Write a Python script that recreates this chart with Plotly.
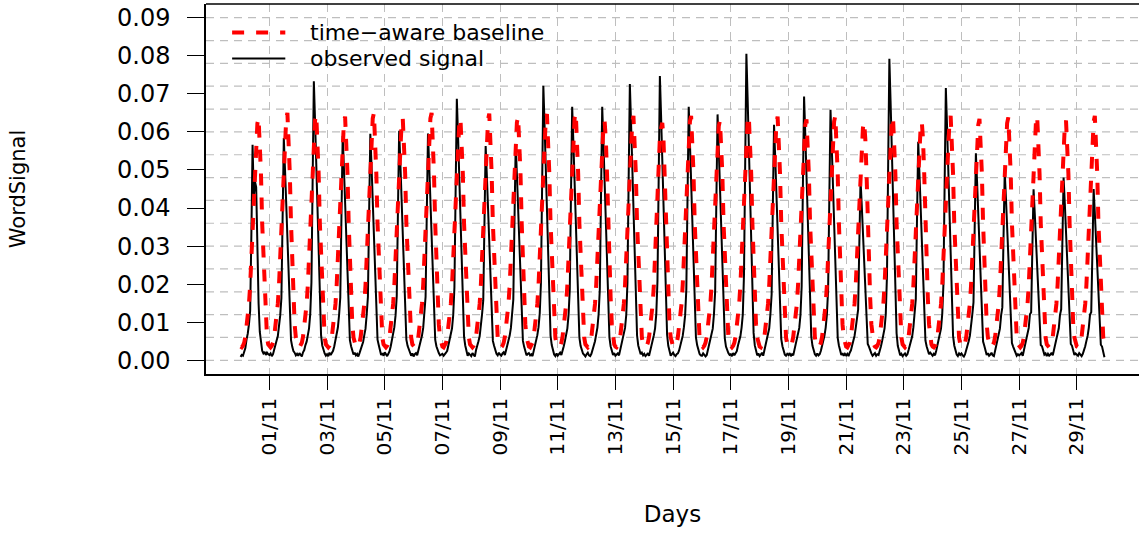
import plotly.graph_objects as go
import pandas as pd

# Observed signal, one row per day, 24 hourly values in units of 1e-4
observed_rows = [
    [9,14,12,20,32,55,70,95,130,330,566,430,470,455,290,150,75,40,25,18,22,14,20,16],
    [14,18,11,16,26,38,52,63,88,118,164,380,584,502,409,304,210,123,53,36,24,20,13,17],
    [12,19,15,10,21,27,40,49,66,84,122,205,476,733,630,513,381,264,154,66,39,27,18,12],
    [16,11,20,14,18,25,37,51,64,86,119,165,383,589,507,412,306,212,124,53,37,25,15,20],
    [13,17,10,19,27,39,48,66,83,121,167,387,595,512,417,309,214,125,54,40,26,14,19,12],
    [21,15,11,17,24,37,52,64,87,118,169,392,603,519,422,314,217,127,54,38,27,16,12,18],
    [10,16,19,13,26,40,49,65,85,122,167,387,596,513,417,310,215,125,54,37,25,19,13,15],
    [17,12,15,20,25,38,51,67,84,119,192,447,687,591,481,357,247,144,62,39,26,12,18,14],
    [11,19,14,10,27,36,50,63,86,121,158,366,563,484,394,293,203,118,51,38,24,17,13,20],
    [15,12,18,21,14,26,39,52,65,85,118,159,369,568,488,398,295,204,119,51,36,25,13,17],
    [19,13,16,11,25,38,49,66,87,123,202,469,721,620,505,375,260,151,65,40,27,15,11,18],
    [12,17,20,14,24,37,51,64,84,120,186,433,666,573,466,346,240,140,60,38,25,18,14,10],
    [16,20,13,11,17,26,39,50,65,86,121,186,433,666,573,466,346,240,140,60,37,26,14,19],
    [12,15,18,13,27,38,52,63,85,119,203,472,726,624,508,378,261,152,65,39,24,16,20,13],
    [17,11,14,19,12,25,40,48,66,84,122,209,486,747,642,523,388,269,157,67,38,27,12,16],
    [20,14,11,16,18,26,37,51,64,87,118,186,433,666,573,466,346,240,140,60,40,25,17,13],
    [12,18,15,10,14,27,38,49,65,83,121,181,420,646,556,452,336,233,136,58,36,26,19,14],
    [16,11,19,13,17,24,39,52,63,86,120,225,523,805,692,564,419,290,169,72,39,25,13,18],
    [11,15,20,12,26,38,50,66,84,122,173,402,619,532,433,322,223,130,56,37,26,15,12,17],
    [14,19,11,16,13,27,37,51,64,85,119,194,450,693,596,485,360,249,146,62,38,24,16,12],
    [18,13,16,25,38,50,65,86,120,184,428,658,566,461,342,237,138,59,39,26,14,19,12,17],
    [13,17,11,20,26,39,49,64,85,118,133,308,474,408,332,246,171,100,43,36,25,18,12,15],
    [19,12,16,14,24,37,51,66,84,121,222,515,792,681,554,412,285,166,71,38,27,13,17,11],
    [15,18,12,16,27,40,48,63,87,119,161,373,574,494,402,298,207,121,52,37,24,16,20,14],
    [12,17,13,25,38,52,65,84,122,200,465,715,615,501,372,257,150,64,39,27,15,11,18,14],
    [18,13,10,16,26,37,50,64,86,120,152,354,544,468,381,283,196,114,49,38,25,14,19,12],
    [15,20,13,11,25,39,51,65,83,118,139,322,496,427,347,258,179,104,45,36,26,17,12,16],
    [13,16,19,12,27,38,49,63,85,121,126,292,449,386,314,233,162,94,40,37,24,15,18,11],
    [17,12,15,20,13,26,40,50,66,84,119,134,312,480,413,336,250,173,101,43,38,25,14,18],
    [16,12,19,14,11,17,25,37,51,64,86,120,126,293,450,387,315,234,162,95,41,36,24,8],
]

# Time-aware baseline, one row per day, 24 hourly values in units of 1e-4
baseline_rows = [
    [36,34,38,46,62,85,115,148,198,275,355,440,520,585,622,637,580,490,360,270,165,95,60,42],
    [36,34,38,46,62,85,115,148,198,275,355,440,520,585,635,650,580,490,360,270,165,95,60,42],
    [36,34,38,46,62,85,115,148,198,275,355,440,520,585,630,645,580,490,360,270,165,95,60,42],
    [36,34,38,46,62,85,115,148,198,275,355,440,520,585,625,640,580,490,360,270,165,95,60,42],
    [36,34,38,46,62,85,115,148,198,275,355,440,520,585,635,650,580,490,360,270,165,95,60,42],
    [36,34,38,46,62,85,115,148,198,275,355,440,520,585,621,636,580,490,360,270,165,95,60,42],
    [36,34,38,46,62,85,115,148,198,275,355,440,520,585,635,650,580,490,360,270,165,95,60,42],
    [36,34,38,46,62,85,115,148,198,275,355,440,520,585,621,636,580,490,360,270,165,95,60,42],
    [36,34,38,46,62,85,115,148,198,275,355,440,520,585,633,648,580,490,360,270,165,95,60,42],
    [36,34,38,46,62,85,115,148,198,275,355,440,520,585,625,640,580,490,360,270,165,95,60,42],
    [36,34,38,46,62,85,115,148,198,275,355,440,520,585,632,647,580,490,360,270,165,95,60,42],
    [36,34,38,46,62,85,115,148,198,275,355,440,520,585,635,650,580,490,360,270,165,95,60,42],
    [36,34,38,46,62,85,115,148,198,275,355,440,520,585,614,629,580,490,360,270,165,95,60,42],
    [36,34,38,46,62,85,115,148,198,275,355,440,520,585,627,642,580,490,360,270,165,95,60,42],
    [36,34,38,46,62,85,115,148,198,275,355,440,520,585,609,624,580,490,360,270,165,95,60,42],
    [36,34,38,46,62,85,115,148,198,275,355,440,520,585,627,642,580,490,360,270,165,95,60,42],
    [36,34,38,46,62,85,115,148,198,275,355,440,520,585,615,630,580,490,360,270,165,95,60,42],
    [36,34,38,46,62,85,115,148,198,275,355,440,520,585,627,642,580,490,360,270,165,95,60,42],
    [36,34,38,46,62,85,115,148,198,275,355,440,520,585,625,640,580,490,360,270,165,95,60,42],
    [36,34,38,46,62,85,115,148,198,275,355,440,520,585,618,633,580,490,360,270,165,95,60,42],
    [36,34,38,46,62,85,115,148,198,275,355,440,520,585,627,642,580,490,360,270,165,95,60,42],
    [36,34,38,46,62,85,115,148,198,275,355,440,520,585,611,626,580,490,360,270,165,95,60,42],
    [36,34,38,46,62,85,115,148,198,275,355,440,520,585,625,640,580,490,360,270,165,95,60,42],
    [36,34,38,46,62,85,115,148,198,275,355,440,520,585,611,626,580,490,360,270,165,95,60,42],
    [36,34,38,46,62,85,115,148,198,275,355,440,520,585,627,642,580,490,360,270,165,95,60,42],
    [36,34,38,46,62,85,115,148,198,275,355,440,520,585,619,634,580,490,360,270,165,95,60,42],
    [36,34,38,46,62,85,115,148,198,275,355,440,520,585,623,638,580,490,360,270,165,95,60,42],
    [36,34,38,46,62,85,115,148,198,275,355,440,520,585,627,642,580,490,360,270,165,95,60,42],
    [36,34,38,46,62,85,115,148,198,275,355,440,520,585,615,630,580,490,360,270,165,95,60,42],
    [36,34,38,46,62,85,115,148,198,275,355,440,520,585,627,642,580,490,360,270,165,95,60,42],
]

tick_labels = ["01/11", "03/11", "05/11", "07/11", "09/11", "11/11", "13/11", "15/11",
               "17/11", "19/11", "21/11", "23/11", "25/11", "27/11", "29/11"]
y_tick_values = [0.00, 0.01, 0.02, 0.03, 0.04, 0.05, 0.06, 0.07, 0.08, 0.09]
y_grid_values = [0.000, 0.006, 0.012, 0.018, 0.024, 0.030, 0.036, 0.042, 0.048,
                 0.054, 0.060, 0.066, 0.072, 0.078, 0.084, 0.090]

for row in observed_rows + baseline_rows:
    assert len(row) == 24, row
assert len(observed_rows) == 30 and len(baseline_rows) == 30

UNIT = 1e-4
observed = [v * UNIT for row in observed_rows for v in row]
baseline = [v * UNIT for row in baseline_rows for v in row]

start = pd.Timestamp("2014-10-31 00:00")
times = pd.date_range(start, periods=len(observed), freq="h")
tick_dates = [pd.Timestamp(f"2014-11-{lab[:2]} 00:00") for lab in tick_labels]

n = len(observed)
pad = 0.04 * (n - 1)
x_range = [start - pd.Timedelta(hours=pad), start + pd.Timedelta(hours=(n - 1) + pad)]
y_range = [0 - 0.04 * 0.09, 0.09 + 0.04 * 0.09]

FONT = "DejaVu Sans"
GRID = "#bebebe"

fig = go.Figure()
fig.add_trace(go.Scatter(x=times, y=observed, mode="lines", name="observed signal",
                         line=dict(color="black", width=2), showlegend=False))
fig.add_trace(go.Scatter(x=times, y=baseline, mode="lines", name="time\u2212aware baseline",
                         line=dict(color="#ff0000", width=4, dash="12px,12px"), showlegend=False))

fig.update_layout(
    width=1139, height=533,
    margin=dict(l=206, r=0, t=4, b=159),
    paper_bgcolor="white", plot_bgcolor="white",
    font=dict(family=FONT, size=22, color="black"),
    xaxis=dict(
        range=x_range, type="date",
        tickvals=tick_dates, ticktext=tick_labels, tickangle=-90,
        ticks="outside", ticklen=14, tickwidth=1.2, tickcolor="black",
        showline=True, linecolor="black", linewidth=1.5, mirror=False,
        showgrid=True, gridcolor=GRID, griddash="8px,6px", gridwidth=1.2,
        zeroline=False, tickfont=dict(size=20),
        title=dict(text="Days", standoff=52, font=dict(size=23)),
    ),
    yaxis=dict(
        range=y_range, tickvals=y_tick_values, tickformat=".2f",
        ticks="outside", ticklen=17, tickwidth=1.2, tickcolor="black",
        showline=True, linecolor="black", linewidth=1.5, mirror=False,
        showgrid=False, zeroline=False, tickfont=dict(size=24),
        ticklabelstandoff=12,
        title=dict(text="WordSignal", standoff=86, font=dict(size=21)),
    ),
    showlegend=False,
)

# horizontal dashed grid (R grid() divisions, independent of the tick marks)
for gv in y_grid_values:
    fig.add_shape(type="line", xref="paper", yref="y", x0=0, x1=1, y0=gv, y1=gv,
                  line=dict(color=GRID, width=1.2, dash="8px,6px"), layer="below")

# top border of the box
fig.add_shape(type="line", xref="paper", yref="paper", x0=0, x1=1, y0=1, y1=1,
              line=dict(color="black", width=1.5), layer="above")

# legend (drawn manually, R style without box)
legend_items = [("time\u2212aware baseline", "#ff0000", 4, "12px,12px"),
                ("observed signal", "black", 2, "solid")]
for i, (label, color, width, dash) in enumerate(legend_items):
    yy = 0.9230 - i * 0.0705
    fig.add_shape(type="line", xref="paper", yref="paper", x0=0.028, x1=0.085, y0=yy, y1=yy,
                  line=dict(color=color, width=width, dash=dash))
    fig.add_annotation(xref="paper", yref="paper", x=0.109, y=yy, text=label, showarrow=False,
                       xanchor="left", yanchor="middle", font=dict(size=22, family=FONT))

fig.write_html("out.html")
